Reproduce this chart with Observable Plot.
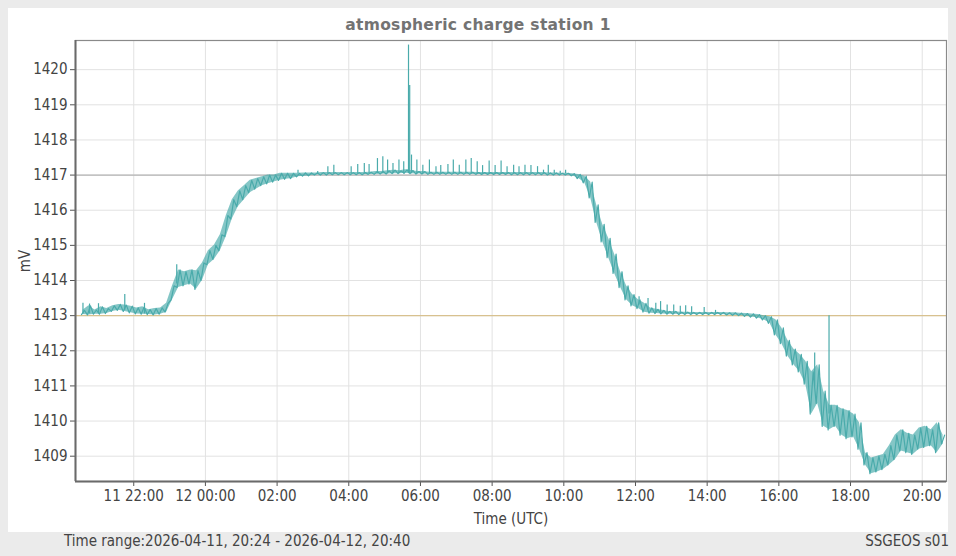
<!DOCTYPE html>
<html><head><meta charset="utf-8">
<script src="https://cdn.jsdelivr.net/npm/d3@7"></script>
<script src="https://cdn.jsdelivr.net/npm/@observablehq/plot@0.6"></script>
<style>
html,body{margin:0;padding:0;background:#ebebeb;width:956px;height:556px;overflow:hidden;}
#panel{position:absolute;left:8px;top:8px;width:940px;height:524px;background:#fff;}
#title{position:absolute;left:0;top:8px;width:940px;text-align:center;font:bold 15.5px "DejaVu Sans",sans-serif;color:#737373;letter-spacing:0.3px;}
#chart{position:absolute;left:0;top:24px;}
.foot{position:absolute;top:532px;font:15px "DejaVu Sans Condensed",sans-serif;color:#444;}
#fl{left:64px;}
#fr{right:7px;}
</style></head><body>
<div id="panel"><div id="title">atmospheric charge station 1</div><div id="chart"></div></div>
<div class="foot" id="fl">Time range:2026-04-11, 20:24 - 2026-04-12, 20:40</div>
<div class="foot" id="fr">SSGEOS s01</div>
<script>
// 10-minute bins, first bin centred on 2026-04-11 20:35 (local time)
const binStart = "2026-04-11T20:35";
const binMinutes = 10;
const bandLow = [
 1413.03,1413.02,1413.04,1413.04,1413.06,1413.12,
 1413.15,1413.12,1413.08,1413.05,1413.04,1413.03,
 1413.02,1413.04,1413.10,1413.45,1413.80,1413.85,
 1413.90,1413.75,1414.00,1414.45,1414.60,1414.85,
 1415.25,1415.75,1416.10,1416.30,1416.50,1416.60,
 1416.70,1416.75,1416.80,1416.85,1416.88,1416.90,
 1416.95,1416.97,1416.98,1417.00,1417.00,1417.00,
 1417.01,1417.01,1417.01,1417.01,1417.01,1417.01,
 1417.02,1417.02,1417.03,1417.03,1417.04,1417.04,
 1417.05,1417.04,1417.03,1417.03,1417.02,1417.02,
 1417.02,1417.02,1417.02,1417.02,1417.02,1417.02,
 1417.02,1417.02,1417.02,1417.02,1417.02,1417.02,
 1417.01,1417.01,1417.01,1417.01,1417.01,1417.01,
 1417.00,1417.00,1417.00,1417.00,1416.98,1416.90,
 1416.78,1416.35,1415.65,1415.10,1414.65,1414.20,
 1413.80,1413.45,1413.28,1413.20,1413.10,1413.07,
 1413.06,1413.05,1413.04,1413.04,1413.03,1413.03,
 1413.03,1413.03,1413.03,1413.03,1413.03,1413.03,
 1413.02,1413.01,1413.00,1412.98,1412.96,1412.93,
 1412.88,1412.78,1412.45,1412.20,1411.85,1411.60,
 1411.40,1411.05,1410.20,1410.50,1409.85,1409.75,
 1409.85,1409.60,1409.50,1409.55,1409.20,1408.75,
 1408.50,1408.55,1408.62,1408.75,1408.90,1409.15,
 1409.10,1409.05,1409.20,1409.25,1409.30,1409.10,
 1409.35
];
const bandHigh = [
 1413.15,1413.28,1413.16,1413.25,1413.20,1413.28,
 1413.32,1413.30,1413.27,1413.22,1413.25,1413.17,
 1413.20,1413.22,1413.35,1413.85,1414.30,1414.25,
 1414.30,1414.28,1414.50,1414.85,1415.00,1415.30,
 1415.85,1416.30,1416.55,1416.70,1416.85,1416.90,
 1416.95,1417.00,1417.00,1417.05,1417.05,1417.05,
 1417.05,1417.06,1417.06,1417.06,1417.07,1417.07,
 1417.07,1417.07,1417.07,1417.07,1417.07,1417.07,
 1417.08,1417.10,1417.10,1417.12,1417.14,1417.12,
 1417.15,1417.13,1417.10,1417.10,1417.08,1417.08,
 1417.08,1417.08,1417.08,1417.08,1417.08,1417.08,
 1417.07,1417.07,1417.07,1417.07,1417.07,1417.07,
 1417.07,1417.07,1417.07,1417.07,1417.07,1417.07,
 1417.06,1417.06,1417.05,1417.05,1417.04,1417.02,
 1416.97,1416.80,1416.15,1415.60,1415.20,1414.75,
 1414.25,1413.85,1413.60,1413.45,1413.35,1413.22,
 1413.18,1413.15,1413.12,1413.12,1413.10,1413.10,
 1413.09,1413.09,1413.09,1413.09,1413.09,1413.09,
 1413.08,1413.08,1413.07,1413.06,1413.05,1413.03,
 1413.00,1412.97,1412.88,1412.65,1412.30,1412.05,
 1411.90,1411.70,1411.40,1411.60,1410.85,1410.45,
 1410.45,1410.35,1410.30,1410.20,1409.95,1409.10,
 1408.95,1409.00,1409.05,1409.30,1409.60,1409.75,
 1409.65,1409.60,1409.80,1409.85,1409.75,1409.95,
 1409.60
];
// isolated spikes (HH:MM; times from 20:24 on are 2026-04-11, earlier ones 2026-04-12)
const spikeTime = ["20:35","20:46","21:01","21:45","22:18","23:12",
 "02:35","03:08","03:25","03:35","04:04","04:15","04:26","04:34","04:48","04:57","05:05","05:14","05:24","05:32",
 "05:40","05:42","05:45","05:54","06:04","06:15","06:26","06:34","06:46","06:55","07:05","07:16","07:25","07:35",
 "07:44","07:55","08:05","08:15","08:25","08:36","08:45","08:55","09:05","09:16","09:26","09:34","09:44","09:54","10:03",
 "12:06","12:21","12:34","12:42","12:53","13:04","13:15","13:24","13:34","13:55","14:14",
 "17:00","17:24"];
const spikeLow = [1413.05,1413.05,1413.05,1413.15,1413.05,1413.90,
 1417.04,1417.04,1417.04,1417.04,1417.04,1417.04,1417.04,1417.04,1417.04,1417.04,1417.04,1417.04,1417.04,1417.04,
 1417.04,1417.04,1417.04,1417.04,1417.04,1417.04,1417.04,1417.04,1417.04,1417.04,1417.04,1417.04,1417.04,1417.04,
 1417.04,1417.04,1417.04,1417.04,1417.04,1417.04,1417.04,1417.04,1417.04,1417.04,1417.04,1417.04,1417.04,1417.04,1417.04,
 1413.30,1413.15,1413.08,1413.08,1413.06,1413.06,1413.05,1413.05,1413.05,1413.05,1413.05,
 1411.00,1410.20];
const spikeHigh = [1413.35,1413.33,1413.34,1413.60,1413.35,1414.45,
 1417.14,1417.10,1417.24,1417.28,1417.24,1417.30,1417.33,1417.30,1417.47,1417.52,1417.43,1417.33,1417.43,1417.38,
 1420.70,1419.55,1417.57,1417.43,1417.28,1417.43,1417.24,1417.27,1417.30,1417.43,1417.28,1417.43,1417.47,1417.38,
 1417.27,1417.40,1417.27,1417.40,1417.24,1417.28,1417.24,1417.28,1417.27,1417.24,1417.14,1417.28,1417.14,1417.11,1417.14,
 1413.54,1413.49,1413.35,1413.40,1413.30,1413.30,1413.27,1413.28,1413.25,1413.23,1413.15,
 1411.94,1413.00];
const refValues = [1417, 1413];
const refColors = ["#b4b4b4", "#d8c18f"];
const yTicks = [1409,1410,1411,1412,1413,1414,1415,1416,1417,1418,1419,1420];
const xTickTimes = ["2026-04-11T22:00","2026-04-12T00:00","2026-04-12T02:00","2026-04-12T04:00","2026-04-12T06:00",
 "2026-04-12T08:00","2026-04-12T10:00","2026-04-12T12:00","2026-04-12T14:00","2026-04-12T16:00","2026-04-12T18:00","2026-04-12T20:00"];
const xTickLabels = ["11 22:00","12 00:00","02:00","04:00","06:00","08:00","10:00","12:00","14:00","16:00","18:00","20:00"];
const xDomain = ["2026-04-11T20:22:30","2026-04-12T20:40:40"];
const yDomain = [1408.28, 1420.83];

const parse = s => new Date(s);
const t0 = parse(binStart).getTime();
const MIN = 60000;
const bins = bandLow.map((lo, i) => ({t: new Date(t0 + i * binMinutes * MIN), lo, hi: bandHigh[i]}));
// zig-zag trace through each bin's low and high reading
const trace = [];
bins.forEach(b => {
  trace.push({t: new Date(+b.t - 2.5 * MIN), v: b.lo});
  trace.push({t: new Date(+b.t + 2.5 * MIN), v: b.hi});
});
const spikes = spikeTime.map((s, i) => ({
  t: parse((s >= "20:24" ? "2026-04-11T" : "2026-04-12T") + s),
  lo: spikeLow[i], hi: spikeHigh[i]
}));
const refs = refValues.map((v, i) => ({v, c: refColors[i]}));
const tickDates = xTickTimes.map(parse);
const labelOf = new Map(tickDates.map((d, i) => [+d, xTickLabels[i]]));
const teal = "#4aabab";
const font = '"DejaVu Sans Condensed",sans-serif';

const chart = Plot.plot({
  width: 940, height: 500,
  marginLeft: 67, marginRight: 2, marginTop: 8, marginBottom: 51,
  style: {fontFamily: font, fontSize: "15px", color: "#444", background: "transparent"},
  x: {type: "time", domain: xDomain.map(parse)},
  y: {domain: yDomain},
  marks: [
    Plot.gridX(tickDates, {stroke: "#e2e2e2", strokeOpacity: 1}),
    Plot.gridY(yTicks, {stroke: "#e2e2e2", strokeOpacity: 1}),
    Plot.ruleY(refs, {y: "v", stroke: "c", strokeWidth: 1.2}),
    Plot.areaY(bins, {x: "t", y1: "lo", y2: "hi", fill: teal, fillOpacity: 0.68}),
    Plot.line(trace, {x: "t", y: "v", stroke: teal, strokeWidth: 1.2}),
    Plot.ruleX(spikes, {x: "t", y1: "lo", y2: "hi", stroke: teal, strokeWidth: 1.2}),
    Plot.frame({stroke: "#8a8a8a", strokeWidth: 1.2}),
    Plot.axisY({ticks: yTicks, tickFormat: d => String(d), tickSize: 5, tickPadding: 3,
      label: "mV", labelAnchor: "center", labelArrow: "none", labelOffset: 56, stroke: "#555"}),
    Plot.axisX({ticks: tickDates, tickFormat: d => labelOf.get(+d), tickSize: 5, tickPadding: 4,
      label: "Time (UTC)", labelAnchor: "center", labelArrow: "none", labelOffset: 42, stroke: "#555"}),
    Plot.ruleX([0], {x: () => parse(xDomain[0]), stroke: "#6a6a6a", strokeWidth: 2}),
    Plot.ruleY([yDomain[0]], {stroke: "#6a6a6a", strokeWidth: 2})
  ]
});
document.getElementById("chart").appendChild(chart);
</script>
</body></html>
